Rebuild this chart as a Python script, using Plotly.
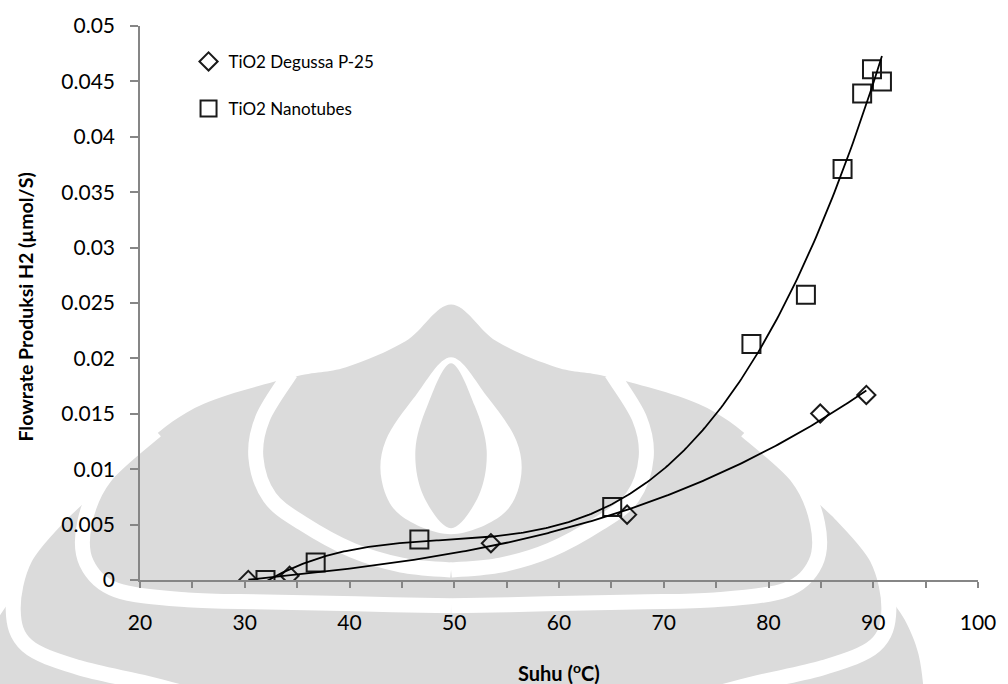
import numpy as np
import plotly.graph_objects as go

# ---- data ----
degussa_x = [30.34, 34.28, 53.50, 66.50, 84.94, 89.34]
degussa_y = [0.0000, 0.00039, 0.00332, 0.0059, 0.01502, 0.0167]

nanotube_x = [31.98, 36.77, 46.67, 65.08, 78.37, 83.57, 87.07, 88.94, 89.88, 90.83]
nanotube_y = [0.0000, 0.00159, 0.00366, 0.00658, 0.0213, 0.02574, 0.0371, 0.0439, 0.0461, 0.0450]

series_names = ["TiO2 Degussa P-25", "TiO2 Nanotubes"]
trend_orders = [3, 3]

W, H = 1008, 684
ML, MR, MT, MB = 140, 22, 23, 104
PW, PH = W - ML - MR, H - MT - MB


def px2paper(px, py):
    return (px - ML) / PW, (H - MB - py) / PH


def smooth_path(pts, closed=False):
    """Catmull-Rom through pixel points -> SVG path in paper coordinates."""
    P = [px2paper(x, y) for x, y in pts]
    n = len(P)
    def get(i):
        if closed:
            return P[i % n]
        return P[min(max(i, 0), n - 1)]
    d = "M %.5f,%.5f" % P[0]
    segs = n if closed else n - 1
    for i in range(segs):
        p0, p1, p2, p3 = get(i - 1), get(i), get(i + 1), get(i + 2)
        c1 = (p1[0] + (p2[0] - p0[0]) / 6, p1[1] + (p2[1] - p0[1]) / 6)
        c2 = (p2[0] - (p3[0] - p1[0]) / 6, p2[1] - (p3[1] - p1[1]) / 6)
        d += " C %.5f,%.5f %.5f,%.5f %.5f,%.5f" % (c1[0], c1[1], c2[0], c2[1], p2[0], p2[1])
    if closed:
        d += " Z"
    return d


CX = 454.0


def mirror(pts):
    return [(2 * CX - x, y) for x, y in pts]


# ---- faint watermark (university logo) drawn as background decoration ----
WM_GRAY = "#dbdbdb"
right_edge = [(CX, 303), (500, 340), (560, 366), (614, 376), (704, 403), (760, 440),
              (800, 480), (840, 517), (875, 552), (892, 590), (912, 620), (926, 655), (932, 700)]
silhouette = right_edge + [(932, 720), (2 * CX - 932, 720)] + list(reversed(mirror(right_edge)))[:-1]

band_w1 = [(616, 372), (644, 417), (651, 457), (637, 497), (604, 523), (554, 550), (504, 565), (CX, 570)]
band_w2 = [(752, 430), (804, 477), (824, 523), (822, 563), (792, 590), (720, 600), (640, 602), (550, 604), (CX, 606)]
band_w3 = [(846, 512), (884, 558), (896, 610), (882, 646), (830, 668), (760, 684), (700, 700)]

flame_right = [(CX, 356), (490, 395), (520, 440), (524, 480), (505, 515), (CX, 534)]
flame = flame_right + list(reversed(mirror(flame_right)))[1:-1]
spike_right = [(CX, 362), (478, 405), (490, 450), (482, 495), (CX, 528)]
spike = spike_right + list(reversed(mirror(spike_right)))[1:-1]

shapes = [
    dict(type="path", xref="paper", yref="paper", layer="below",
         path=smooth_path(silhouette, closed=True), fillcolor=WM_GRAY, line=dict(width=0)),
]
for band in (band_w1, band_w2, band_w3):
    for pts in (band, mirror(band)):
        shapes.append(dict(type="path", xref="paper", yref="paper", layer="below",
                           path=smooth_path(pts), line=dict(color="white", width=15)))
shapes.append(dict(type="path", xref="paper", yref="paper", layer="below",
                   path=smooth_path(flame, closed=True), fillcolor="white", line=dict(width=0)))
shapes.append(dict(type="path", xref="paper", yref="paper", layer="below",
                   path=smooth_path(spike, closed=True), fillcolor=WM_GRAY, line=dict(width=0)))

FONT = "Lato, 'Open Sans', sans-serif"
INK = "#1a1a1a"
AXC = "#868686"

fig = go.Figure()

fig.add_trace(go.Scatter(
    x=degussa_x, y=degussa_y, mode="markers", name=series_names[0],
    legendgroup="a",
    marker=dict(symbol="diamond-open", size=14, color=INK, line=dict(width=2, color=INK)),
))
fig.add_trace(go.Scatter(
    x=nanotube_x, y=nanotube_y, mode="markers", name=series_names[1],
    legendgroup="b",
    marker=dict(symbol="square-open", size=18, color=INK, line=dict(width=2, color=INK)),
))

for xs, ys, order in [(degussa_x, degussa_y, trend_orders[0]), (nanotube_x, nanotube_y, trend_orders[1])]:
    coef = np.polyfit(xs, ys, order)
    xx = np.linspace(min(xs), max(xs), 300)
    fig.add_trace(go.Scatter(
        x=xx, y=np.polyval(coef, xx), mode="lines", showlegend=False,
        line=dict(color="#000000", width=1.8), hoverinfo="skip",
    ))

ytx, yty = px2paper(24, 306)
xtx, xty = px2paper(563, 673)
lgx, lgy = px2paper(189, 41)

fig.update_layout(
    width=W, height=H,
    margin=dict(l=ML, r=MR, t=MT, b=MB),
    paper_bgcolor="white", plot_bgcolor="rgba(0,0,0,0)",
    font=dict(family=FONT, size=18, color="#000000"),
    showlegend=True,
    legend=dict(x=lgx, y=lgy, xanchor="left", yanchor="top",
                bgcolor="rgba(0,0,0,0)", font=dict(size=17, color="#000000"),
                tracegroupgap=22, itemsizing="trace"),
    xaxis=dict(range=[20, 100], tick0=20, dtick=10, showgrid=False, zeroline=False,
               showline=True, linecolor=AXC, linewidth=1.5,
               ticks="outside", ticklen=6, tickwidth=1.5, tickcolor=AXC,
               ticklabelstandoff=17,
               minor=dict(dtick=5, ticks="outside", ticklen=6, tickwidth=1.5, tickcolor=AXC),
               tickfont=dict(size=21)),
    yaxis=dict(range=[0, 0.05], tick0=0, dtick=0.005, showgrid=False, zeroline=False,
               showline=True, linecolor=AXC, linewidth=1.5,
               ticks="outside", ticklen=8, tickwidth=1.5, tickcolor=AXC,
               exponentformat="none", ticklabelstandoff=11,
               tickfont=dict(size=21)),
    shapes=shapes,
    annotations=[
        dict(text="Flowrate Produksi H2 (µmol/S)", x=ytx, y=yty, xref="paper", yref="paper",
             showarrow=False, textangle=-90, font=dict(size=19.5, family="Lato", weight="bold"),
             xanchor="center", yanchor="middle"),
        dict(text="Suhu (<sup>o</sup>C)", x=xtx, y=xty, xref="paper", yref="paper",
             showarrow=False, font=dict(size=20, family="Lato", weight="bold"),
             xanchor="center", yanchor="middle"),
    ],
)

fig.write_html("out.html")
